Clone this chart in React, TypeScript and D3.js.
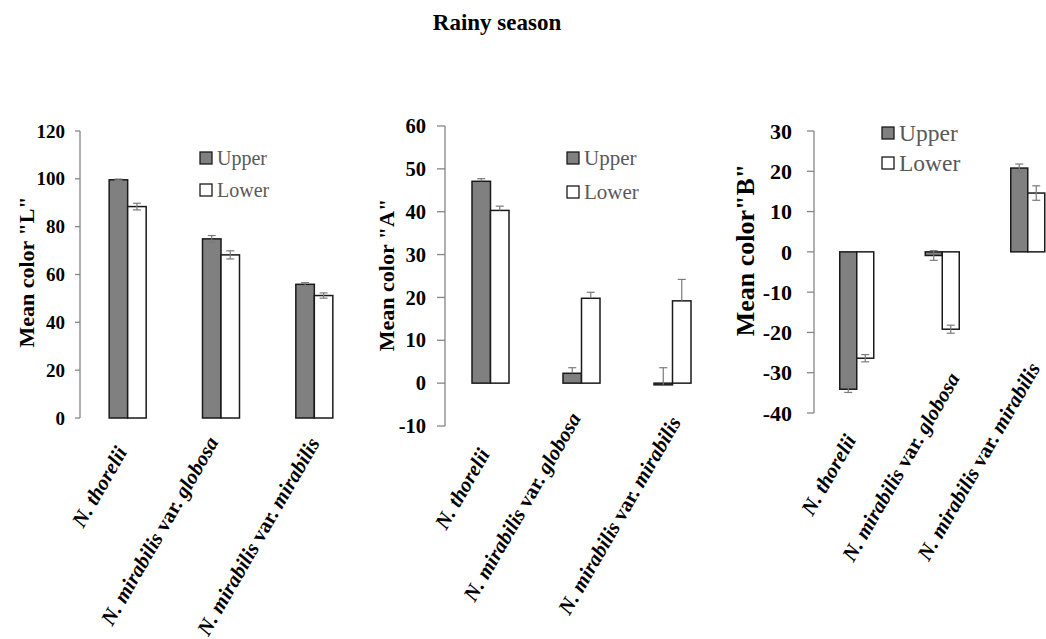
import React from "react";
import * as d3 from "d3";

const categories = ["N. thorelii", "N. mirabilis var. globosa", "N. mirabilis var. mirabilis"];
const seriesNames = ["Upper", "Lower"];

const lUpper = [99.6, 74.9, 55.9];
const lUpperErr = [0.3, 1.4, 0.7];
const lLower = [88.4, 68.2, 51.2];
const lLowerErr = [1.4, 1.7, 1.1];

const aUpper = [47.1, 2.3, -0.4];
const aUpperErr = [0.6, 1.3, 4.0];
const aLower = [40.3, 19.8, 19.2];
const aLowerErr = [1.0, 1.4, 5.0];

const bUpper = [-34.1, -0.9, 20.8];
const bUpperErr = [0.8, 1.2, 1.0];
const bLower = [-26.4, -19.2, 14.6];
const bLowerErr = [0.9, 1.0, 1.8];

const lTicks = [0, 20, 40, 60, 80, 100, 120];
const aTicks = [-10, 0, 10, 20, 30, 40, 50, 60];
const bTicks = [-40, -30, -20, -10, 0, 10, 20, 30];

const title = "Rainy season";
const FONT = "Liberation Serif, Times New Roman, serif";

type PanelCfg = {
  yLabel: string;
  upper: number[];
  upperErr: number[];
  lower: number[];
  lowerErr: number[];
  ticks: number[];
  plusOnly: boolean;
  axisX: number;
  yTop: number;
  yBottom: number;
  x0: number;
  x1: number;
  barW: number;
  tickLen: number;
  tickFont: number;
  tickGap: number;
  labelFont: number;
  labelX: number;
  labelY: number;
  legendX: number;
  legendY: number[];
  legendFont: number;
  catFont: number;
  catAnchor: [number, number][];
};

const panels: PanelCfg[] = [
  {
    yLabel: 'Mean color "L"',
    upper: lUpper, upperErr: lUpperErr, lower: lLower, lowerErr: lLowerErr,
    ticks: lTicks, plusOnly: false,
    axisX: 80, yTop: 131, yBottom: 418, x0: 81, x1: 361, barW: 18.5,
    tickLen: 5, tickFont: 19, tickGap: 15,
    labelFont: 22, labelX: 34, labelY: 272,
    legendX: 200, legendY: [158, 190], legendFont: 20,
    catFont: 21, catAnchor: [[0, 452], [-2, 442], [6, 443]],
  },
  {
    yLabel: 'Mean color "A"',
    upper: aUpper, upperErr: aUpperErr, lower: aLower, lowerErr: aLowerErr,
    ticks: aTicks, plusOnly: true,
    axisX: 445, yTop: 126, yBottom: 426, x0: 445, x1: 718, barW: 18.5,
    tickLen: 8, tickFont: 20.5, tickGap: 19,
    labelFont: 22, labelX: 394, labelY: 275,
    legendX: 567, legendY: [158, 192], legendFont: 21,
    catFont: 21, catAnchor: [[0, 454], [0, 418], [9, 422]],
  },
  {
    yLabel: 'Mean color"B"',
    upper: bUpper, upperErr: bUpperErr, lower: bLower, lowerErr: bLowerErr,
    ticks: bTicks, plusOnly: false,
    axisX: 814, yTop: 131, yBottom: 413, x0: 814, x1: 1070.5, barW: 17,
    tickLen: 7, tickFont: 22, tickGap: 22,
    labelFont: 26, labelX: 754, labelY: 250,
    legendX: 882, legendY: [133, 163], legendFont: 23.5,
    catFont: 21, catAnchor: [[0, 440], [18, 378], [13, 368]],
  },
];

function labelParts(s: string): { t: string; italic: boolean }[] {
  const idx = s.indexOf(" var. ");
  if (idx < 0) return [{ t: s, italic: true }];
  return [
    { t: s.slice(0, idx), italic: true },
    { t: " var. ", italic: false },
    { t: s.slice(idx + 6), italic: true },
  ];
}

const UPPER_FILL = "#808080";
const LOWER_FILL = "#ffffff";
const BAR_STROKE = "#1a1a1a";
const AXIS = "#868686";
const ERR = "#7a7a7a";

function Panel({ cfg }: { cfg: PanelCfg }) {
  const dom = d3.extent(cfg.ticks) as [number, number];
  const y = d3.scaleLinear().domain(dom).range([cfg.yBottom, cfg.yTop]);
  const x = d3.scaleBand<string>().domain(categories).range([cfg.x0, cfg.x1]).paddingInner(0).paddingOuter(0);
  const series = [
    { name: seriesNames[0], vals: cfg.upper, errs: cfg.upperErr, fill: UPPER_FILL, off: -1 },
    { name: seriesNames[1], vals: cfg.lower, errs: cfg.lowerErr, fill: LOWER_FILL, off: 0 },
  ];
  const capW = 4;
  return (
    <g>
      <line x1={cfg.axisX} x2={cfg.axisX} y1={y(dom[0])} y2={y(dom[1])} stroke={AXIS} strokeWidth={1.3} />
      {cfg.ticks.map((t) => (
        <g key={t}>
          <line x1={cfg.axisX - cfg.tickLen} x2={cfg.axisX} y1={y(t)} y2={y(t)} stroke={AXIS} strokeWidth={1.3} />
          <text
            x={cfg.axisX - cfg.tickGap}
            y={y(t)}
            dy="0.35em"
            textAnchor="end"
            style={{ fontFamily: FONT, fontWeight: 700, fontSize: cfg.tickFont }}
            fill="#000"
          >
            {t}
          </text>
        </g>
      ))}
      <text
        transform={`translate(${cfg.labelX},${cfg.labelY}) rotate(-90)`}
        textAnchor="middle"
        style={{ fontFamily: FONT, fontWeight: 700, fontSize: cfg.labelFont }}
        fill="#000"
      >
        {cfg.yLabel}
      </text>
      {series.map((s) =>
        categories.map((c, i) => {
          const cx = (x(c) as number) + x.bandwidth() / 2;
          const bx = cx + s.off * cfg.barW;
          const v = s.vals[i];
          const y0 = y(0);
          const yv = y(v);
          return (
            <rect
              key={s.name + c}
              x={bx}
              y={Math.min(y0, yv)}
              width={cfg.barW}
              height={Math.max(Math.abs(y0 - yv), 1)}
              fill={s.fill}
              stroke={BAR_STROKE}
              strokeWidth={1.5}
            />
          );
        })
      )}
      {series.map((s) =>
        categories.map((c, i) => {
          const cx = (x(c) as number) + x.bandwidth() / 2;
          const ex = cx + s.off * cfg.barW + cfg.barW / 2;
          const v = s.vals[i];
          const e = s.errs[i];
          const yHi = y(v + e);
          const yLo = cfg.plusOnly ? y(v) : y(v - e);
          return (
            <g key={"e" + s.name + c} stroke={ERR} strokeWidth={1.2}>
              <line x1={ex} x2={ex} y1={yHi} y2={yLo} />
              <line x1={ex - capW} x2={ex + capW} y1={yHi} y2={yHi} />
              {!cfg.plusOnly && <line x1={ex - capW} x2={ex + capW} y1={yLo} y2={yLo} />}
            </g>
          );
        })
      )}
      {categories.map((c, i) => {
        const cx = (x(c) as number) + x.bandwidth() / 2;
        const [dx, ay] = cfg.catAnchor[i];
        return (
          <text
            key={"c" + c}
            transform={`translate(${cx + dx},${ay}) rotate(-60)`}
            textAnchor="end"
            style={{ fontFamily: FONT, fontWeight: 700, fontSize: cfg.catFont }}
            fill="#000"
          >
            {labelParts(c).map((p, k) => (
              <tspan key={k} style={{ fontStyle: p.italic ? "italic" : "normal" }}>
                {p.t}
              </tspan>
            ))}
          </text>
        );
      })}
      {series.map((s, k) => (
        <g key={"lg" + s.name}>
          <rect
            x={cfg.legendX}
            y={cfg.legendY[k] - 6}
            width={12}
            height={12}
            fill={s.fill}
            stroke={BAR_STROKE}
            strokeWidth={1.3}
          />
          <text
            x={cfg.legendX + 17}
            y={cfg.legendY[k]}
            dy="0.35em"
            style={{ fontFamily: FONT, fontSize: cfg.legendFont }}
            fill="#595959"
          >
            {s.name}
          </text>
        </g>
      ))}
    </g>
  );
}

export default function App() {
  return (
    <svg
      width={1046}
      height={639}
      viewBox="0 0 1046 639"
      style={{ position: "absolute", left: 0, top: 0, background: "#fff" }}
    >
      <rect x={0} y={0} width={1046} height={639} fill="#fff" />
      <text
        x={497}
        y={30}
        textAnchor="middle"
        style={{ fontFamily: FONT, fontWeight: 700, fontSize: 23 }}
        fill="#000"
      >
        {title}
      </text>
      {panels.map((p, i) => (
        <Panel key={i} cfg={p} />
      ))}
    </svg>
  );
}
